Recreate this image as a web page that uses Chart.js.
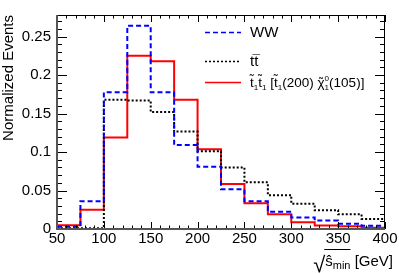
<!DOCTYPE html>
<html>
<head>
<meta charset="utf-8">
<script src="https://cdn.jsdelivr.net/npm/chart.js@4.4.1/dist/chart.umd.min.js"></script>
<style>
  html, body { margin: 0; padding: 0; background: #fff; }
  #grafico { display: block; }
</style>
</head>
<body>
<canvas id="grafico" width="399" height="274"></canvas>
<script>
const binEdges = [50, 75, 100, 125, 150, 175, 200, 225, 250, 275, 300, 325, 350, 375, 400];
const wwValues = [0.003, 0.036, 0.1775, 0.264, 0.1775, 0.109, 0.081, 0.0515, 0.036, 0.0224, 0.015, 0.011, 0.0067, 0.0042];
const ttValues = [0.001, 0.001, 0.168, 0.167, 0.152, 0.1265, 0.101, 0.080, 0.0606, 0.044, 0.0328, 0.0245, 0.019, 0.013];
const stopValues = [0.005, 0.025, 0.119, 0.225, 0.218, 0.168, 0.1037, 0.0585, 0.0336, 0.019, 0.0087, 0.0046, 0.0037, 0.0017];

const xTicks = [50, 100, 150, 200, 250, 300, 350, 400];
const yTicks = [0, 0.05, 0.1, 0.15, 0.2, 0.25];

const FONTE = '"Liberation Sans Narrow", "Liberation Sans", Arial, sans-serif';
const FONTE_Y = '"Liberation Sans", Arial, sans-serif';

function pontosHistograma(valores) {
  const pts = valores.map((v, i) => ({ x: binEdges[i], y: v }));
  pts.push({ x: binEdges[binEdges.length - 1], y: valores[valores.length - 1] });
  return pts;
}

// texto com sub/sobrescritos e acentos (til, barra)
function textoRico(ctx, x, y, partes, tam) {
  ctx.textAlign = 'left';
  ctx.textBaseline = 'alphabetic';
  for (const p of partes) {
    const s = tam * (p.k || 1);
    ctx.font = `${s}px ${FONTE}`;
    const w = ctx.measureText(p.t).width;
    ctx.fillText(p.t, x, y + (p.dy || 0));
    if (p.acc) {
      ctx.font = `${tam * 0.9}px ${FONTE}`;
      ctx.textAlign = 'center';
      ctx.fillText(p.acc, x + w / 2 + (p.ax || 0), y + (p.dy || 0) - (p.up || 0));
      ctx.textAlign = 'left';
    }
    if (!p.fica) x += w;
  }
  return x;
}

const legenda = {
  id: 'legenda',
  afterDraw(chart) {
    const ctx = chart.ctx;
    const ds = chart.data.datasets;
    const linhas = [32, 61, 82];
    ctx.save();
    ds.forEach((d, i) => {
      ctx.strokeStyle = d.borderColor;
      ctx.lineWidth = 1.3;
      ctx.setLineDash(d.borderDash || []);
      ctx.beginPath();
      ctx.moveTo(205, linhas[i] + 0.5);
      ctx.lineTo(241, linhas[i] + 0.5);
      ctx.stroke();
    });
    ctx.setLineDash([]);
    ctx.fillStyle = '#000';
    textoRico(ctx, 250, 37, [{ t: 'WW' }], 15);
    textoRico(ctx, 250, 66, [{ t: 't' }, { t: 't', acc: '\u00AF', up: 2 }], 15);
    const sub = { k: 0.6, dy: 3 };
    textoRico(ctx, 250, 87, [
      { t: 't', acc: '\u02DC', up: 3 }, Object.assign({ t: '1' }, sub),
      { t: 't', acc: '\u02DC', up: 3 }, Object.assign({ t: '1' }, sub),
      { t: ' [' },
      { t: 't', acc: '\u02DC', up: 3 }, Object.assign({ t: '1' }, sub),
      { t: '(200) ' },
      { t: '\u03C7', acc: '\u02DC', up: 0 },
      { t: '0', k: 0.6, dy: -6, fica: true }, Object.assign({ t: '1' }, sub),
      { t: '(105)]' }
    ], 13.5);
    ctx.restore();
  }
};

const moldura = {
  id: 'moldura',
  afterDraw(chart) {
    const { ctx, chartArea: a, scales: { x, y } } = chart;
    ctx.save();
    ctx.strokeStyle = '#000';
    ctx.lineWidth = 1;
    ctx.beginPath();
    for (let v = 50; v <= 400; v += 10) {
      const px = Math.round(x.getPixelForValue(v)) + 0.5;
      const len = v % 50 === 0 ? 7 : 3.5;
      ctx.moveTo(px, a.bottom); ctx.lineTo(px, a.bottom - len);
      ctx.moveTo(px, a.top); ctx.lineTo(px, a.top + len);
    }
    for (let i = 0; i <= 27; i++) {
      const py = Math.round(y.getPixelForValue(i * 0.01)) + 0.5;
      const len = i % 5 === 0 ? 10 : 5;
      ctx.moveTo(a.left, py); ctx.lineTo(a.left + len, py);
      ctx.moveTo(a.right, py); ctx.lineTo(a.right - len, py);
    }
    ctx.stroke();
    ctx.strokeRect(a.left + 0.5, a.top + 0.5, a.right - a.left - 1, a.bottom - a.top);
    ctx.strokeStyle = '#555';
    ctx.lineWidth = 2;
    ctx.beginPath();
    ctx.moveTo(a.left, a.top); ctx.lineTo(a.left, a.bottom); ctx.lineTo(a.right, a.bottom);
    ctx.stroke();

    // título do eixo x: raiz de s-chapéu min [GeV]
    ctx.fillStyle = '#000';
    ctx.textBaseline = 'alphabetic';
    ctx.font = `15px ${FONTE}`;
    const wS = ctx.measureText('\u015D').width;
    const wG = ctx.measureText(' [GeV]').width;
    ctx.font = `11px ${FONTE}`;
    const wM = ctx.measureText('min').width;
    ctx.font = `22px ${FONTE}`;
    const wR = ctx.measureText('\u221A').width;
    const fim = 393;
    const x0 = fim - wG - wM - wS - wR;
    const base = 266;
    ctx.fillText('\u221A', x0, base + 6);
    ctx.font = `15px ${FONTE}`;
    ctx.fillText('\u015D', x0 + wR, base);
    ctx.font = `11px ${FONTE}`;
    ctx.fillText('min', x0 + wR + wS, base + 3);
    ctx.font = `15px ${FONTE}`;
    ctx.fillText(' [GeV]', x0 + wR + wS + wM, base);
    ctx.strokeStyle = '#000';
    ctx.lineWidth = 1;
    ctx.beginPath();
    ctx.moveTo(x0 + wR - 1, 249.5);
    ctx.lineTo(x0 + wR + wS + wM, 249.5);
    ctx.stroke();
    ctx.restore();
  }
};

new Chart(document.getElementById('grafico'), {
  type: 'line',
  data: {
    datasets: [
      {
        label: 'WW',
        data: pontosHistograma(wwValues),
        borderColor: '#0000ff',
        borderWidth: 2,
        borderDash: [5, 3],
        stepped: true,
        pointRadius: 0,
        fill: false
      },
      {
        label: 'tt',
        data: pontosHistograma(ttValues),
        borderColor: '#000000',
        borderWidth: 2,
        borderDash: [2, 2],
        stepped: true,
        pointRadius: 0,
        fill: false
      },
      {
        label: 'stop',
        data: pontosHistograma(stopValues),
        borderColor: '#ff0000',
        borderWidth: 2,
        stepped: true,
        pointRadius: 0,
        fill: false
      }
    ]
  },
  options: {
    responsive: false,
    animation: false,
    devicePixelRatio: 1,
    layout: { padding: { top: 5, right: 14, left: 0, bottom: 0 } },
    plugins: {
      legend: { display: false },
      tooltip: { enabled: false }
    },
    scales: {
      x: {
        type: 'linear',
        min: 50,
        max: 400,
        afterFit: s => { s.height = 45; },
        afterBuildTicks: s => { s.ticks = xTicks.map(v => ({ value: v })); },
        grid: { display: false, drawTicks: false },
        border: { display: false },
        ticks: { color: '#000', padding: 1, maxRotation: 0, font: { family: FONTE, size: 15 } }
      },
      y: {
        min: 0,
        max: 0.278,
        afterFit: s => { s.width = 57; },
        afterBuildTicks: s => { s.ticks = yTicks.map(v => ({ value: v })); },
        grid: { display: false, drawTicks: false },
        border: { display: false },
        ticks: {
          color: '#000', padding: 6,
          font: { family: FONTE, size: 15 },
          callback: v => String(+v.toFixed(2))
        },
        title: {
          display: true,
          text: 'Normalized Events',
          align: 'end',
          color: '#000',
          padding: 0,
          font: { family: FONTE_Y, size: 15 }
        }
      }
    }
  },
  plugins: [moldura, legenda]
});
</script>
</body>
</html>
